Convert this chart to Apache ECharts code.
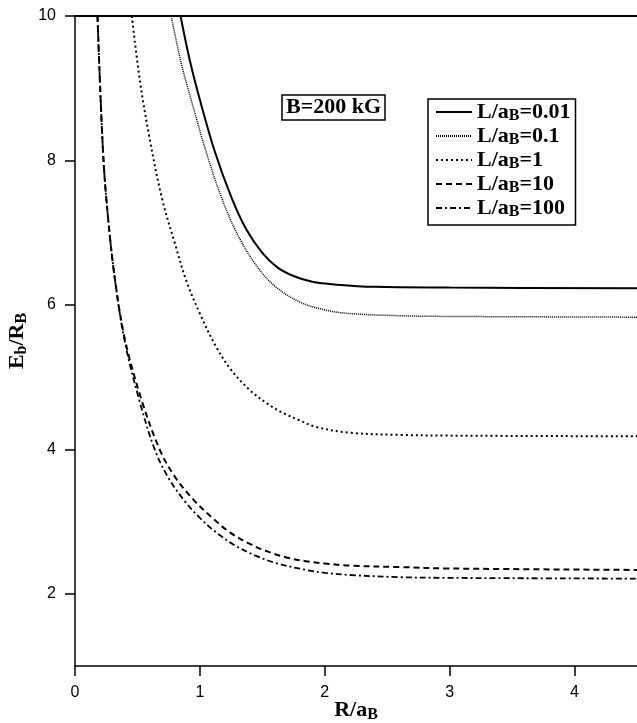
<!DOCTYPE html>
<html>
<head>
<meta charset="utf-8">
<script src="https://cdn.jsdelivr.net/npm/echarts@6/dist/echarts.min.js"></script>
<style>
html, body { margin: 0; padding: 0; background: #fff; }
#chart { width: 637px; height: 723px; }
</style>
</head>
<body>
<div id="chart"></div>
<script>
// binding energy vs R, one curve per L/aB
var names = ['L/aB=0.01', 'L/aB=0.1', 'L/aB=1', 'L/aB=10', 'L/aB=100'];

var r001 = [0.845, 0.92, 1.0, 1.12, 1.25, 1.37, 1.5, 1.62, 1.75, 1.9, 2.1, 2.4, 3.0, 4.5];
var e001 = [10, 9.38, 8.84, 8.12, 7.5, 7.05, 6.72, 6.52, 6.4, 6.32, 6.28, 6.25, 6.24, 6.23];

var r01 = [0.77, 0.85, 0.93, 1.05, 1.17, 1.3, 1.45, 1.6, 1.8, 2.0, 2.2, 2.6, 3.0, 4.5];
var e01 = [10, 9.35, 8.84, 8.12, 7.5, 6.98, 6.55, 6.26, 6.04, 5.93, 5.88, 5.85, 5.84, 5.83];

var r1 = [0.455, 0.52, 0.6, 0.7, 0.8, 0.89, 1.0, 1.13, 1.25, 1.4, 1.55, 1.67, 1.8, 1.93, 2.2, 2.6, 3.0, 4.5];
var e1 = [10, 9.1, 8.28, 7.45, 6.85, 6.34, 5.88, 5.42, 5.1, 4.82, 4.62, 4.5, 4.4, 4.31, 4.23, 4.2, 4.19, 4.18];

var r10 = [0.18, 0.225, 0.265, 0.32, 0.4, 0.53, 0.68, 0.8, 0.95, 1.1, 1.24, 1.4, 1.55, 1.7, 1.85, 2.0, 2.2, 2.6, 3.0, 4.5];
var e10 = [10, 8.1, 7.2, 6.35, 5.52, 4.7, 3.99, 3.62, 3.3, 3.05, 2.85, 2.69, 2.58, 2.5, 2.45, 2.42, 2.39, 2.37, 2.35, 2.33];

var r100 = [0.18, 0.225, 0.265, 0.32, 0.4, 0.52, 0.64, 0.75, 0.88, 1.0, 1.13, 1.28, 1.43, 1.6, 1.85, 2.0, 2.2, 2.6, 3.0, 4.5];
var e100 = [10, 8.1, 7.2, 6.35, 5.48, 4.65, 3.99, 3.6, 3.28, 3.05, 2.85, 2.67, 2.54, 2.43, 2.33, 2.29, 2.26, 2.23, 2.22, 2.21];

var xTicks = [0, 1, 2, 3, 4];
var yTicks = [2, 4, 6, 8, 10];

function pairs(xs, ys){
	return xs.map(function(x, i){ return [x, ys[i]]; });
}

var serif = 'Liberation Serif';
var sans = 'Liberation Sans';

var dashes = ['solid', [1, 1], [2, 3], [6, 4], [6, 3, 2, 3]];
var widths = [2, 1.5, 2, 2, 1.8];
var curves = [pairs(r001, e001), pairs(r01, e01), pairs(r1, e1), pairs(r10, e10), pairs(r100, e100)];

var series = curves.map(function(d, i){
	return {
		'name': names[i],
		'type': 'line',
		'data': d,
		'symbol': 'none',
		'smooth': 0.35,
		'lineStyle': { 'color': '#000', 'width': widths[i], 'type': dashes[i] },
		'itemStyle': { 'color': '#000' }
	};
});

var chart = echarts.init(document.getElementById('chart'), null, { renderer: 'canvas' });
chart.setOption({
	'animation': false,
	'backgroundColor': '#fff',
	'grid': { 'left': 75, 'top': 16, 'right': 0, 'bottom': 57, 'containLabel': false, 'outerBoundsMode': 'none' },
	'title': {
		'text': 'B=200 kG',
		'left': 282, 'top': 95,
		'padding': [1, 4, 1, 4],
		'borderColor': '#000', 'borderWidth': 1.5,
		'textStyle': { 'fontFamily': serif, 'fontWeight': 'bold', 'fontSize': 22, 'lineHeight': 23, 'color': '#000' }
	},
	'legend': {
		'orient': 'vertical',
		'left': 428, 'top': 99,
		'padding': [2, 5, 5, 7],
		'itemGap': 1,
		'itemWidth': 36, 'itemHeight': 14,
		'borderColor': '#000', 'borderWidth': 1.5,
		'itemStyle': { 'color': 'rgba(0,0,0,0)', 'borderWidth': 0, 'opacity': 0 },
		'data': names,
		'formatter': function(n){
			return '{a|L/a}{b|B}{a|' + n.slice(4) + '}';
		},
		'textStyle': {
			'rich': {
				'a': { 'fontFamily': serif, 'fontWeight': 'bold', 'fontSize': 22, 'color': '#000', 'lineHeight': 20 },
				'b': { 'fontFamily': serif, 'fontWeight': 'bold', 'fontSize': 16, 'color': '#000', 'padding': [8, 0, 0, 0] }
			}
		}
	},
	'xAxis': [{
		'type': 'value', 'min': 0, 'max': 4.5, 'interval': 1,
		'name': '{a|R/a}{b|B}', 'nameLocation': 'middle', 'nameGap': 32, 'nameMoveOverlap': false,
		'nameTextStyle': { 'rich': {
			'a': { 'fontFamily': serif, 'fontWeight': 'bold', 'fontSize': 22, 'color': '#000' },
			'b': { 'fontFamily': serif, 'fontWeight': 'bold', 'fontSize': 16, 'color': '#000', 'padding': [9, 0, 0, 0] }
		}},
		'axisLine': { 'lineStyle': { 'color': '#000', 'width': 1.5 } },
		'axisTick': { 'length': 10, 'lineStyle': { 'color': '#000', 'width': 1.5 } },
		'axisLabel': { 'margin': 19, 'fontFamily': sans, 'fontSize': 16, 'color': '#000',
			'showMaxLabel': false,
			'formatter': function(v){ return xTicks.indexOf(v) >= 0 ? String(v) : ''; } },
		'splitLine': { 'show': false }
	}, {
		'type': 'value', 'min': 0, 'max': 4.5, 'position': 'top',
		'axisLine': { 'show': true, 'lineStyle': { 'color': '#000', 'width': 2 } },
		'axisTick': { 'show': false }, 'axisLabel': { 'show': false }, 'splitLine': { 'show': false }
	}],
	'yAxis': {
		'type': 'value', 'min': 1, 'max': 10,
		'name': '{a|E}{b|b}{a|/R}{b|B}', 'nameLocation': 'middle', 'nameGap': 45, 'nameRotate': 90,
		'nameMoveOverlap': false,
		'nameTextStyle': { 'rich': {
			'a': { 'fontFamily': serif, 'fontWeight': 'bold', 'fontSize': 22, 'color': '#000' },
			'b': { 'fontFamily': serif, 'fontWeight': 'bold', 'fontSize': 16, 'color': '#000', 'padding': [9, 0, 0, 0] }
		}},
		'axisLine': { 'show': true, 'lineStyle': { 'color': '#000', 'width': 1.5 } },
		'axisTick': { 'show': true, 'length': 10, 'lineStyle': { 'color': '#000', 'width': 1.5 },
			'customValues': yTicks },
		'axisLabel': { 'margin': 19, 'fontFamily': sans, 'fontSize': 16, 'color': '#000',
			'customValues': yTicks },
		'splitLine': { 'show': false }
	},
	'series': series
});
</script>
</body>
</html>
